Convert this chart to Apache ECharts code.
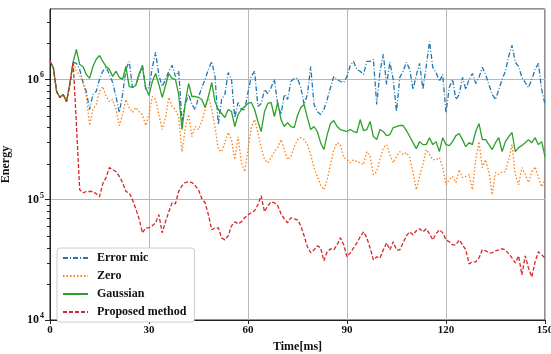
<!DOCTYPE html>
<html>
<head>
<meta charset="utf-8">
<script src="https://cdn.jsdelivr.net/npm/echarts@6/dist/echarts.min.js"></script>
<style>html,body{margin:0;padding:0;background:#fff;}#c{width:551px;height:354px;}</style>
</head>
<body>
<div id="c"></div>
<script>
const times = [0,1,2,3,4,5,6,7,8,9,10,11,12,13,14,15,16,17,18,19,20,21,22,23,24,25,26,27,28,29,30,31,32,33,34,35,36,37,38,39,40,41,42,43,44,45,46,47,48,49,50,51,52,53,54,55,56,57,58,59,60,61,62,63,64,65,66,67,68,69,70,71,72,73,74,75,76,77,78,79,80,81,82,83,84,85,86,87,88,89,90,91,92,93,94,95,96,97,98,99,100,101,102,103,104,105,106,107,108,109,110,111,112,113,114,115,116,117,118,119,120,121,122,123,124,125,126,127,128,129,130,131,132,133,134,135,136,137,138,139,140,141,142,143,144,145,146,147,148,149,150];

const errorMic = [1.41e6,1.26e6,7.94e5,7.08e5,7.5e5,6.55e5,9.08e5,1.39e6,
1.36e6,1.21e6,9.43e5,7.94e5,5.62e5,7.5e5,7.94e5,1.0e6,1.17e6,1.26e6,
1.10e6,9.43e5,7.21e5,5.31e5,7.5e5,1.21e6,1.41e6,8.57e5,9.08e5,1.06e6,
1.33e6,8.25e5,8.57e5,1.26e6,1.68e6,1.08e6,8.73e5,1.0e6,1.17e6,1.31e6,
1.06e6,1.17e6,4.47e5,6.19e5,7.5e5,6.19e5,5.62e5,7.08e5,8.57e5,1.0e6,
1.21e6,1.41e6,1.06e6,4.22e5,6.81e5,7.5e5,1.14e6,1.0e6,4.82e5,6.43e5,
5.62e5,5.62e5,7.79e5,1.06e6,1.17e6,5.96e5,6.31e5,8.25e5,7.64e5,8.57e5,
1.0e6,6.19e5,5.11e5,7.5e5,6.81e5,9.61e5,1.02e6,1.02e6,8.57e5,6.19e5,
7.5e5,1.28e6,6.19e5,5.41e5,5.11e5,5.62e5,6.81e5,8.57e5,1.06e6,1.0e6,
9.61e5,9.43e5,1.06e6,1.31e6,1.41e6,1.21e6,1.17e6,1.10e6,1.41e6,1.41e6,
1.47e6,6.19e5,1.17e6,1.62e6,9.08e5,1.39e6,1.0e6,5.41e5,1.04e6,1.17e6,
1.39e6,1.21e6,8.25e5,1.08e6,1.36e6,8.25e5,1.28e6,2.07e6,1.26e6,1.14e6,
9.61e5,1.10e6,5.31e5,8.57e5,1.0e6,6.81e5,7.5e5,1.04e6,8.25e5,1.0e6,
1.12e6,9.25e5,1.04e6,1.26e6,1.10e6,9.08e5,7.5e5,6.81e5,8.25e5,1.0e6,
1.17e6,1.56e6,1.92e6,1.39e6,1.28e6,1.04e6,9.43e5,8.57e5,1.0e6,1.21e6,
1.36e6,8.25e5,6.19e5];

const zero = [1.41e6,1.26e6,7.94e5,7.08e5,7.5e5,6.55e5,9.08e5,1.39e6,
1.17e6,1.08e6,9.43e5,7.21e5,4.14e5,5.62e5,6.19e5,7.94e5,8.73e5,7.21e5,
6.55e5,6.81e5,5.62e5,4.14e5,5.11e5,6.81e5,5.84e5,5.31e5,5.84e5,5.41e5,
5.11e5,4.14e5,5.11e5,7.21e5,6.81e5,5.11e5,3.83e5,4.82e5,7.08e5,5.96e5,
5.62e5,4.82e5,2.51e5,3.98e5,5.11e5,3.35e5,4.06e5,3.83e5,4.47e5,5.62e5,
7.21e5,5.62e5,4.06e5,2.61e5,2.51e5,2.98e5,3.62e5,3.16e5,2.15e5,3.35e5,
2.03e5,1.71e5,2.61e5,3.98e5,4.64e5,3.62e5,2.71e5,2.15e5,2.03e5,2.24e5,
2.51e5,2.71e5,3.16e5,2.61e5,2.15e5,2.28e5,2.76e5,3.16e5,3.28e5,3.16e5,
2.87e5,2.37e5,1.85e5,1.56e5,1.33e5,1.21e5,1.47e5,1.96e5,2.61e5,2.98e5,
2.87e5,2.24e5,2.15e5,2.03e5,2.15e5,2.07e5,2.03e5,1.96e5,2.51e5,2.28e5,
1.62e5,1.71e5,2.15e5,2.71e5,2.87e5,2.37e5,2.03e5,2.28e5,2.51e5,2.37e5,
2.46e5,2.24e5,1.68e5,1.21e5,1.56e5,1.96e5,2.61e5,2.37e5,2.15e5,2.15e5,
2.24e5,1.85e5,1.33e5,1.47e5,1.56e5,1.39e5,1.78e5,1.53e5,1.56e5,1.62e5,
1.21e5,2.15e5,3.04e5,1.85e5,2.15e5,1.71e5,1.10e5,1.68e5,1.62e5,1.71e5,
1.71e5,2.15e5,2.87e5,1.62e5,1.33e5,1.85e5,1.62e5,1.39e5,1.71e5,1.88e5,
1.53e5,1.28e5,1.47e5];

const gaussian = [1.41e6,1.26e6,7.94e5,7.08e5,7.5e5,6.55e5,9.08e5,1.39e6,
1.78e6,1.33e6,1.28e6,1.10e6,1.02e6,1.28e6,1.47e6,1.58e6,1.41e6,1.28e6,
1.21e6,1.06e6,1.17e6,1.04e6,1.0e6,1.28e6,8.73e5,8.57e5,8.90e5,1.12e6,
1.28e6,8.57e5,7.36e5,9.61e5,1.12e6,9.08e5,7.08e5,8.90e5,1.12e6,1.02e6,
1.0e6,7.5e5,3.83e5,6.43e5,9.25e5,7.21e5,7.21e5,7.08e5,6.81e5,5.84e5,
7.21e5,9.43e5,6.55e5,5.62e5,5.21e5,4.82e5,5.62e5,5.41e5,4.06e5,5.11e5,
5.62e5,5.96e5,6.31e5,6.43e5,5.62e5,4.47e5,3.69e5,5.41e5,6.31e5,6.43e5,
4.92e5,6.43e5,4.64e5,4.06e5,4.38e5,4.06e5,3.98e5,5.01e5,5.84e5,6.19e5,
4.82e5,3.83e5,4.06e5,3.69e5,2.98e5,2.61e5,3.48e5,4.30e5,4.55e5,4.06e5,
3.83e5,3.76e5,3.69e5,3.83e5,3.69e5,3.62e5,4.64e5,3.76e5,3.83e5,4.47e5,
3.35e5,3.16e5,3.83e5,3.69e5,3.41e5,3.48e5,3.98e5,4.06e5,4.14e5,4.14e5,
3.76e5,3.35e5,2.98e5,2.66e5,3.04e5,2.87e5,2.87e5,3.28e5,2.87e5,3.04e5,
2.51e5,3.28e5,2.87e5,2.82e5,3.04e5,3.41e5,3.55e5,3.16e5,2.76e5,2.98e5,
2.87e5,3.69e5,4.30e5,3.16e5,3.16e5,2.87e5,2.61e5,2.98e5,3.28e5,2.51e5,
3.04e5,3.35e5,3.62e5,2.51e5,2.71e5,2.82e5,2.98e5,3.16e5,2.98e5,3.28e5,
2.87e5,3.04e5,2.28e5];

const proposed = [1.41e6,1.26e6,7.94e5,7.08e5,7.5e5,6.55e5,9.08e5,1.39e6,
4.22e5,1.21e5,1.14e5,1.17e5,1.17e5,1.17e5,1.12e5,1.06e5,1.36e5,1.53e5,
1.85e5,1.78e5,1.71e5,1.56e5,1.39e5,1.17e5,1.14e5,1.0e5,8.41e4,6.94e4,
5.31e4,5.84e4,5.84e4,6.07e4,6.43e4,7.5e4,5.31e4,6.55e4,7.94e4,9.43e4,
9.25e4,1.17e5,1.31e5,1.39e5,1.41e5,1.39e5,1.31e5,1.21e5,1.02e5,9.43e4,
7.5e4,5.62e4,5.84e4,5.84e4,4.82e4,4.64e4,5.01e4,6.07e4,6.55e4,6.31e4,
6.55e4,7.08e4,7.5e4,7.79e4,8.09e4,9.08e4,1.08e5,7.94e4,8.9e4,9.61e4,
9.43e4,8.9e4,7.64e4,6.94e4,6.43e4,7.08e4,6.94e4,6.81e4,6.07e4,5.01e4,
4.06e4,3.62e4,3.83e4,4.14e4,3.98e4,3.10e4,3.69e4,3.91e4,3.83e4,4.22e4,
4.82e4,4.22e4,3.35e4,3.62e4,3.98e4,4.38e4,4.92e4,5.41e4,4.82e4,3.98e4,
3.16e4,3.35e4,3.28e4,3.83e4,4.38e4,3.83e4,4.47e4,3.83e4,3.83e4,4.38e4,
5.01e4,5.41e4,5.11e4,5.52e4,5.73e4,5.41e4,5.73e4,5.21e4,4.64e4,5.21e4,
5.62e4,5.31e4,4.64e4,4.47e4,4.22e4,4.22e4,4.64e4,4.22e4,3.83e4,2.93e4,
3.04e4,3.04e4,3.28e4,3.83e4,3.76e4,3.62e4,3.62e4,3.76e4,3.83e4,3.91e4,
3.83e4,3.55e4,3.28e4,2.98e4,3.41e4,2.37e4,3.41e4,2.71e4,2.28e4,3.04e4,
3.69e4,3.48e4,3.28e4];

const seriesNames = ['Error mic', 'Zero', 'Gaussian', 'Proposed method'];
const xTicks = [0, 30, 60, 90, 120, 150];
const minorTickValues = [2e4,3e4,4e4,5e4,6e4,7e4,8e4,9e4,2e5,3e5,4e5,5e5,6e5,7e5,8e5,9e5,2e6,3e6];

const FONT = "'Liberation Serif','Times New Roman',serif";
const pair = arr => times.map((t, i) => [t, arr[i]]);

const styles = [
  {color: '#1f77b4', type: [5, 2, 1, 2]},
  {color: '#ff7f0e', type: [1.5, 2]},
  {color: '#2ca02c', type: 'solid'},
  {color: '#d62728', type: [4, 2]}
];
const dataSets = [errorMic, zero, gaussian, proposed];

const chart = echarts.init(document.getElementById('c'), null, {renderer: 'canvas'});
const option = {
  animation: false,
  backgroundColor: '#fff',
  grid: {left: 50, right: 6, top: 9, bottom: 34, containLabel: false, outerBoundsMode: 'none',
    show: true, borderColor: '#222', borderWidth: 1, backgroundColor: 'transparent'},
  legend: {
    show: true, orient: 'vertical', left: 57, top: 248,
    padding: [4, 8, 4, 5], itemWidth: 25, itemHeight: 10, itemGap: 6,
    backgroundColor: '#fff', borderColor: '#cccccc', borderWidth: 1, borderRadius: 3,
    itemStyle: {opacity: 0, borderWidth: 0},
    textStyle: {fontFamily: FONT, fontWeight: 'bold', fontSize: 12, color: '#111', padding: [0, 0, 0, 4]},
    data: seriesNames
  },
  xAxis: {
    type: 'value', min: 0, max: 150, interval: 30,
    name: 'Time[ms]', nameLocation: 'middle', nameGap: 18,
    nameTextStyle: {fontFamily: FONT, fontWeight: 'bold', fontSize: 12, color: '#111'},
    axisLine: {show: true, onZero: false, lineStyle: {color: '#222', width: 1}},
    axisTick: {show: true, length: 4, lineStyle: {color: '#222'}},
    axisLabel: {fontFamily: FONT, fontWeight: 'bold', fontSize: 11, color: '#111', margin: 5,
      formatter: v => xTicks.indexOf(v) >= 0 ? String(v) : ''},
    splitLine: {show: true, lineStyle: {color: '#b8b8b8', width: 1}}
  },
  yAxis: {
    type: 'log', logBase: 10, min: 1e4, max: 3.85e6,
    name: 'Energy', nameLocation: 'middle', nameGap: 38, nameRotate: 90,
    nameTextStyle: {fontFamily: FONT, fontWeight: 'bold', fontSize: 12, color: '#111'},
    axisLine: {show: true, lineStyle: {color: '#222', width: 1}},
    axisTick: {show: true, length: 5, lineStyle: {color: '#222'}},
    axisLabel: {
      margin: 6, color: '#111', showMaxLabel: false,
      formatter: v => {
        const e = Math.log10(v);
        if (Math.abs(e - Math.round(e)) > 1e-6) return '';
        return '10{sup|' + Math.round(e) + '}';
      },
      rich: {sup: {fontFamily: FONT, fontWeight: 'bold', fontSize: 8, verticalAlign: 'top', padding: [0, 0, 8, 1], color: '#111'}},
      fontFamily: FONT, fontWeight: 'bold', fontSize: 12
    },
    splitLine: {show: true, lineStyle: {color: '#b8b8b8', width: 1}}
  },
  series: seriesNames.map((n, i) => ({
    name: n, type: 'line', data: pair(dataSets[i]), symbol: 'none', showSymbol: false,
    lineStyle: {color: styles[i].color, width: 1.3, type: styles[i].type},
    itemStyle: {color: styles[i].color},
    z: 2 + i
  }))
};
chart.setOption(option);

// minor ticks on the log axis, placed via the axis scale
const g = [];
minorTickValues.forEach(v => {
  const p = chart.convertToPixel({xAxisIndex: 0, yAxisIndex: 0}, [0, v]);
  if (p) g.push({type: 'line', shape: {x1: p[0] - 3, y1: Math.round(p[1]) + 0.5, x2: p[0], y2: Math.round(p[1]) + 0.5}, style: {stroke: '#222', lineWidth: 1}, silent: true});
});
chart.setOption({graphic: g});
</script>
</body>
</html>
